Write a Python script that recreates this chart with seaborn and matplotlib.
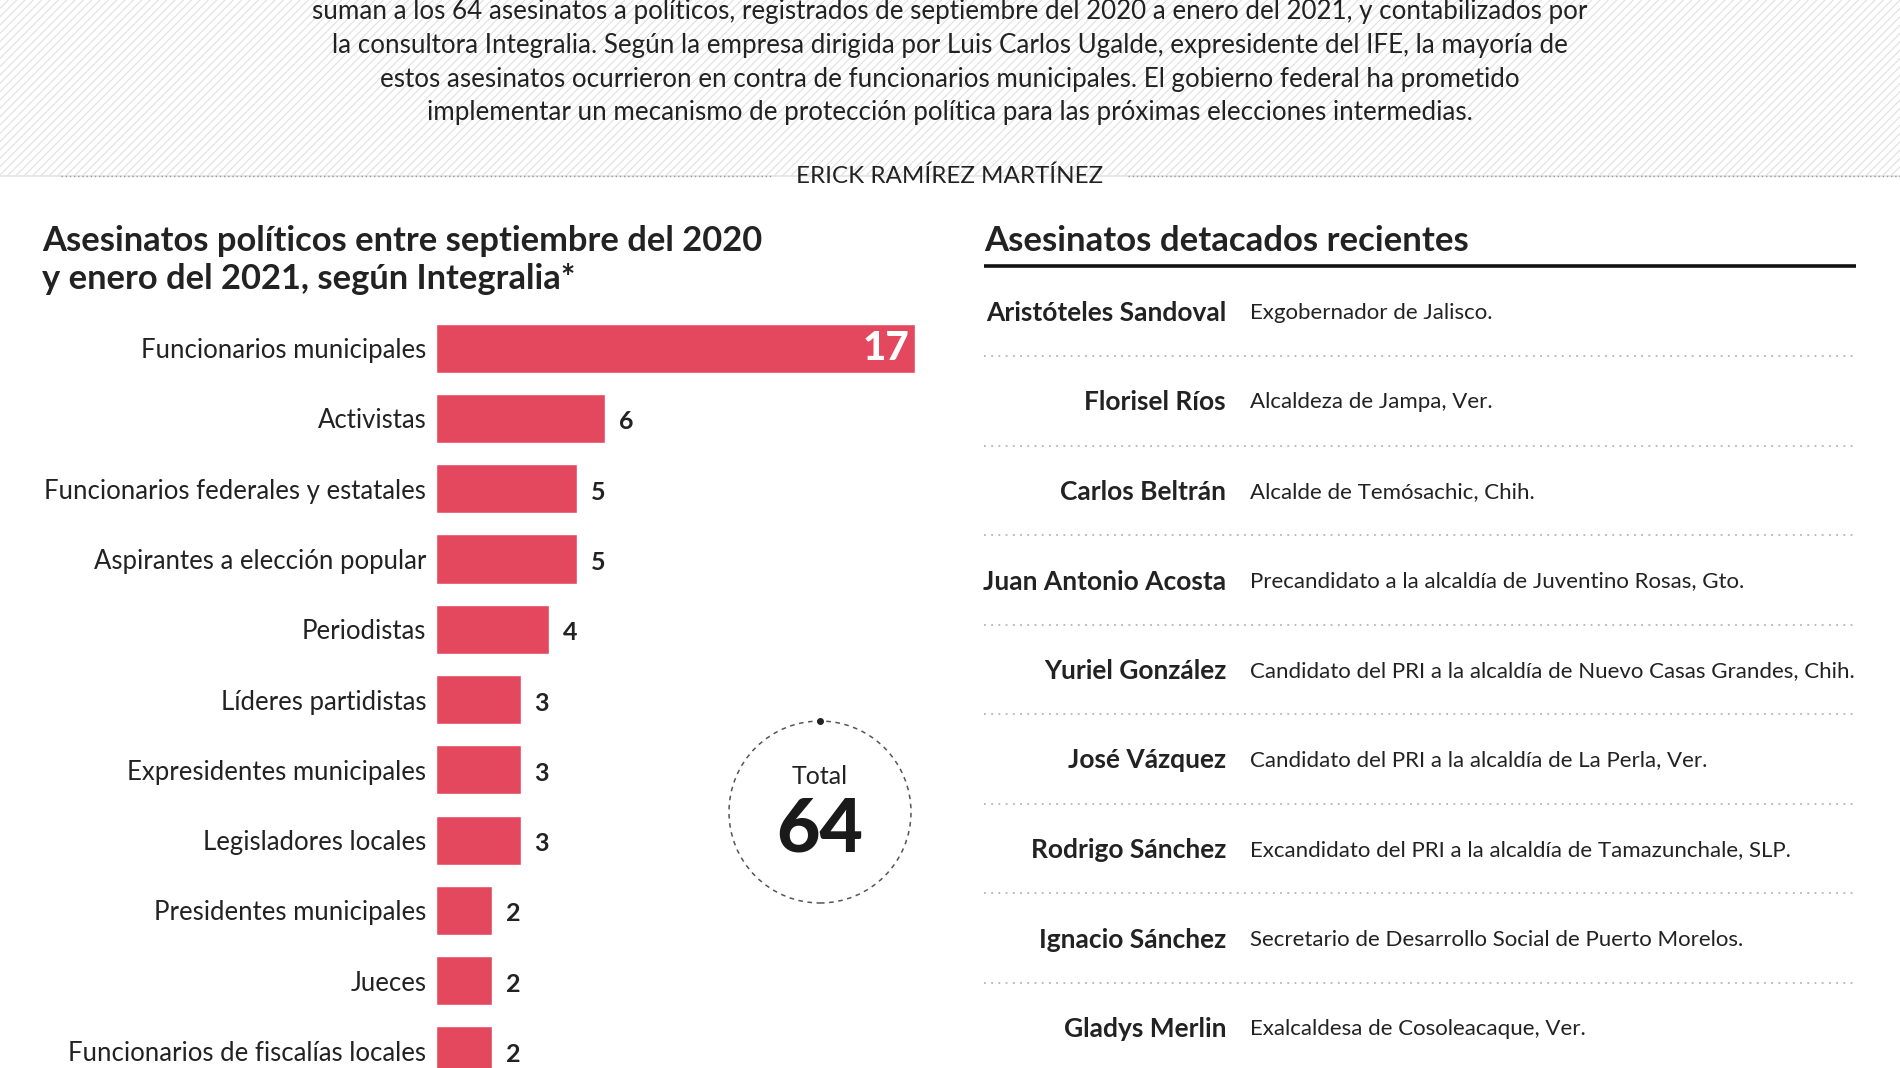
import matplotlib
matplotlib.use("Agg")
import matplotlib.pyplot as plt
from matplotlib.patches import Rectangle, Circle
import seaborn as sns

# datos
categorias = ["Funcionarios municipales", "Activistas", "Funcionarios federales y estatales",
              "Aspirantes a elección popular", "Periodistas", "Líderes partidistas",
              "Expresidentes municipales", "Legisladores locales", "Presidentes municipales",
              "Jueces", "Funcionarios de fiscalías locales"]
valores = [17, 6, 5, 5, 4, 3, 3, 3, 2, 2, 2]
total = 64

nombres = ["Aristóteles Sandoval", "Florisel Ríos", "Carlos Beltrán", "Juan Antonio Acosta",
           "Yuriel González", "José Vázquez", "Rodrigo Sánchez", "Ignacio Sánchez", "Gladys Merlin"]
cargos = ["Exgobernador de Jalisco.", "Alcaldeza de Jampa, Ver.", "Alcalde de Temósachic, Chih.",
          "Precandidato a la alcaldía de Juventino Rosas, Gto.",
          "Candidato del PRI a la alcaldía de Nuevo Casas Grandes, Chih.",
          "Candidato del PRI a la alcaldía de La Perla, Ver.",
          "Excandidato del PRI a la alcaldía de Tamazunchale, SLP.",
          "Secretario de Desarrollo Social de Puerto Morelos.",
          "Exalcaldesa de Cosoleacaque, Ver."]

texto_intro = ["suman a los 64 asesinatos a políticos, registrados de septiembre del 2020 a enero del 2021, y contabilizados por",
               "la consultora Integralia. Según la empresa dirigida por Luis Carlos Ugalde, expresidente del IFE, la mayoría de",
               "estos asesinatos ocurrieron en contra de funcionarios municipales. El gobierno federal ha prometido",
               "implementar un mecanismo de protección política para las próximas elecciones intermedias."]
autor = "ERICK RAMÍREZ MARTÍNEZ"
titulo_barras = "Asesinatos políticos entre septiembre del 2020\ny enero del 2021, según Integralia*"
titulo_tabla = "Asesinatos detacados recientes"

ROJO = "#E4485E"
OSCURO = "#222222"
W, H = 1900, 1068

sns.set_theme(style="white")
plt.rcParams["font.family"] = ["Lato", "DejaVu Sans"]
plt.rcParams["hatch.linewidth"] = 0.7

fig = plt.figure(figsize=(19, 10.68), dpi=100)
fig.patch.set_facecolor("white")

# capa de fondo en pixeles
bg = fig.add_axes([0, 0, 1, 1])
bg.set_xlim(0, W)
bg.set_ylim(H, 0)
bg.axis("off")
bg.set_zorder(0)
bg.add_patch(Rectangle((0, 0), W, 176, facecolor="white", edgecolor="#dcdcdc",
                       hatch="////", lw=0))
bg.plot([0, W], [176, 176], color="#e4e4e4", lw=1.2)
bg.plot([61, 772], [176, 176], color="#9a9a9a", lw=1, ls=(0, (1, 2)))
bg.plot([1128, W], [176, 176], color="#9a9a9a", lw=1, ls=(0, (1, 2)))

for i, linea in enumerate(texto_intro):
    bg.text(950, 12 + i * 33.5, linea, ha="center", va="center", fontsize=18.7, color=OSCURO)
bg.text(950, 176, autor, ha="center", va="center", fontsize=17.4, color=OSCURO)

bg.text(42, 260, titulo_barras, ha="left", va="center", fontsize=24.8, fontweight="bold",
        color=OSCURO, linespacing=1.22)

# tabla derecha
bg.text(984, 241, titulo_tabla, ha="left", va="center", fontsize=25, fontweight="bold", color=OSCURO)
bg.plot([984, 1856], [266, 266], color="#111111", lw=2.6, solid_capstyle="butt")
for i, (n, c) in enumerate(zip(nombres, cargos)):
    y = 313 + 89.5 * i
    bg.text(1226, y, n, ha="right", va="center", fontsize=19, fontweight="bold", color=OSCURO)
    bg.text(1250, y, c, ha="left", va="center", fontsize=16, color=OSCURO)
    bg.plot([984, 1856], [y + 43, y + 43], color="#b5b5b5", lw=1.3, ls=(0, (1, 3)))

# barras
ax = fig.add_axes([436 / W, 0, (915 - 436) / W, 1 - 313 / H])
ax.set_zorder(2)
ax.patch.set_alpha(0)
sns.barplot(x=valores, y=categorias, orient="h", color=ROJO, saturation=1, width=0.7, ax=ax)
ax.set_xlim(0, 17)
ax.set_ylim((H - 348) / 70.3, -0.5)
sns.despine(ax=ax, left=True, bottom=True)
ax.set_xticks([])
ax.set_xlabel("")
ax.set_ylabel("")
ax.tick_params(axis="y", length=0, pad=7, labelsize=18.5, labelcolor=OSCURO)
for i, v in enumerate(valores):
    if i == 0:
        ax.text(v - 0.2, i, str(v), ha="right", va="center", fontsize=29,
                fontweight="black", color="white")
    else:
        ax.text(v + 0.5, i + 0.05, str(v), ha="left", va="center", fontsize=18,
                fontweight="bold", color=OSCURO)

# circulo total
cx = fig.add_axes([(820 - 110) / W, 1 - (812 + 110) / H, 220 / W, 220 / H])
cx.set_xlim(-110, 110)
cx.set_ylim(-110, 110)
cx.axis("off")
cx.add_patch(Circle((0, 0), 91, fill=False, ec="#555555", lw=1.1, ls=(0, (3, 3))))
cx.plot([0], [91], "o", color="#222222", ms=4)
cx.text(0, 35, "Total", ha="center", va="center", fontsize=18, color=OSCURO)
cx.text(0, -18, str(total), ha="center", va="center", fontsize=54, fontweight="black", color="#1a1a1a")

fig.savefig("out.png", dpi=100, facecolor="white")
